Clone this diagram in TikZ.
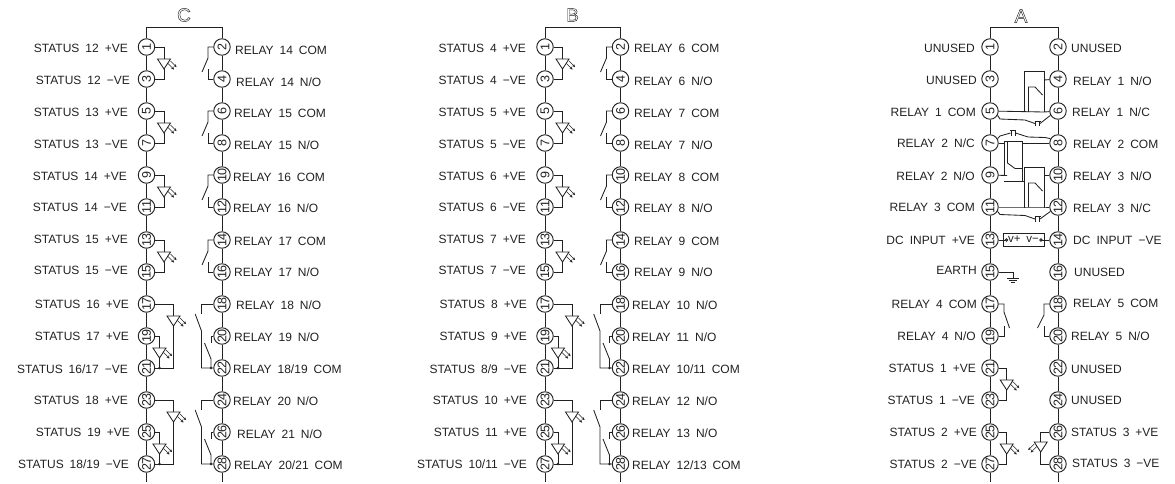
\documentclass[tikz,border=0pt]{standalone}
\usepackage{graphicx}
\usepackage{fontspec}
\setmainfont[WordSpace=1.8]{Liberation Sans}
\definecolor{ink}{gray}{0.13}
\tikzset{
  w/.style={draw=ink,line width=0.85pt,line join=miter},
  term/.style={circle,draw=ink,line width=0.95pt,fill=white,minimum size=16.5pt,inner sep=0pt,text=ink,font=\fontsize{12.5}{12.5}\selectfont},
  lt/.style={inner sep=0pt,anchor=east,text=ink,text height=9pt,text depth=0pt,font=\fontsize{12}{12}\selectfont},
  rt/.style={lt,anchor=west},
  head/.style={inner sep=0pt,text=ink,font=\fontsize{19}{19}\selectfont},
  ray/.style={draw=ink,line width=0.55pt,-{Stealth[length=2.8pt,width=2.8pt]}},
  dotn/.style={circle,fill=ink,inner sep=0pt,minimum size=2.8pt},
  psu/.style={inner sep=0pt,text=ink,font=\fontsize{11.5}{11.5}\selectfont}
}
\usetikzlibrary{arrows.meta}
\newcommand\outl[1]{\special{pdf:code q 1 Tr 0.45 w}#1\special{pdf:code Q}}
% terminals and spines: prefix, left x, right x
\newcommand\pins[3]{%
  \foreach \yy [count=\k from 0] in {47,79,111,143,175,207,240,272,304,336,368,400,432,464}{%
    \pgfmathtruncatemacro\oo{2*\k+1}\pgfmathtruncatemacro\ee{2*\k+2}%
    \node[term] (#1\oo) at (#2,\yy) {\rotatebox{90}{\makebox[10pt][c]{\oo}}};
    \node[term] (#1\ee) at (#3,\yy) {\rotatebox{90}{\makebox[10pt][c]{\ee}}};
  }
  \coordinate (#1tl) at (#2,27); \coordinate (#1tr) at (#3,27);
  \coordinate (#1bl) at (#2,482); \coordinate (#1br) at (#3,482);
  \draw[w] (#11) -- (#1tl) -- (#1tr) -- (#12);
  \draw[w] (#127) -- (#1bl); \draw[w] (#128) -- (#1br);
  \foreach \a/\b in {1/3,3/5,5/7,7/9,9/11,11/13,13/15,15/17,17/19,19/21,21/23,23/25,25/27,
                     2/4,4/6,6/8,8/10,10/12,12/14,14/16,16/18,18/20,20/22,22/24,24/26,26/28}{
    \draw[w] (#1\a) -- (#1\b);
  }
}
\newcommand\tri[2]{%
  \draw[w] ({#1-6.5},#2) -- ({#1+6.5},#2) -- (#1,{#2+10}) -- cycle;
  \draw[ray] ({#1+4},{#2+4.5}) -- ({#1+10},{#2+10.5});
  \draw[ray] ({#1+6.5},{#2+2}) -- ({#1+12.5},{#2+8});
}
\newcommand\opto[5]{%
  \draw[w] (#1) -- (#3,#4) -- (#3,{#4+12}) ;
  \tri{#3}{#4+12}
  \draw[w] (#3,{#4+22}) -- (#3,#5) -- (#2);
}
\newcommand\optob[5]{%
  \draw[w] (#1) -- ({173.5+#4},#5) -- ({173.5+#4},{#5+12});
  \tri{173.5+#4}{#5+12}
  \draw[w] ({173.5+#4},{#5+22}) -- ({173.5+#4},{#5+64}) -- (#3);
  \draw[w] (#2) -- ({159.5+#4},{#5+32}) -- ({159.5+#4},{#5+44});
  \tri{159.5+#4}{#5+44}
  \draw[w] ({159.5+#4},{#5+54}) -- ({159.5+#4},{#5+64});
  \node[dotn] (#3dot) at ({159.5+#4},{#5+64}) {};
}
\newcommand\contact[9]{%
  \draw[w] (#1) -- (#3,#4) -- (#3,#6) -- (#7,#8);
  \draw[w] (#2) -- (#3,#5) -- (#3,#9);
}
\newcommand\scontact[4]{\contact{#1}{#2}{#3}{#4}{#4+32}{#4+11}{#3-6}{#4+25}{#4+22}}
\newcommand\relayb[5]{%
  \draw[w] (#1) -- ({201.5+#4},#5) -- ({201.5+#4},{#5+10});
  \draw[w] ({195.2+#4},{#5+10}) -- ({201.5+#4},{#5+27}) -- ({201.5+#4},{#5+64}) -- (#3);
  \draw[w] (#2) -- ({211+#4},{#5+32}) -- ({211+#4},{#5+39});
  \draw[w] ({204.5+#4},{#5+39}) -- ({211+#4},{#5+55}) -- ({211+#4},{#5+64});
  \node[dotn] (#3dot) at ({211+#4},{#5+64}) {};
}
\newcommand\jump[2]{%
  \draw[w] ({#1},{#2-2.5}) -- ({#1},{#2+2.5});
  \draw[w] ({#1+4},{#2-2.5}) -- ({#1+4},{#2+2.5});
  \draw[w] ({#1-1},{#2-2.5}) -- ({#1+5},{#2-2.5});
}
\newcommand\LL[4]{\node[lt] (#1) at (#2,#3) {#4};}
\newcommand\RR[4]{\node[rt] (#1) at (#2,#3) {#4};}
\begin{document}
\begin{tikzpicture}[x=1pt,y=-1pt]
\useasboundingbox (0,0) rectangle (1175,483);
% ---------- C
\pins{c}{146.5}{222}
\node[head] (hc) at (184,15) {\outl{C}};
\opto{c1}{c3}{164}{47}{79}
\opto{c5}{c7}{164}{111}{143}
\opto{c9}{c11}{164}{175}{207}
\opto{c13}{c15}{164}{240}{272}
\optob{c17}{c19}{c21}{0}{304}
\optob{c23}{c25}{c27}{0}{400}
\scontact{c2}{c4}{208}{47}
\scontact{c6}{c8}{208}{111}
\scontact{c10}{c12}{208}{175}
\scontact{c14}{c16}{208}{240}
\relayb{c18}{c20}{c22}{0}{304}
\relayb{c24}{c26}{c28}{0}{400}
\LL{cl1}{128}{48}{STATUS 12 +VE}
\LL{cl3}{130}{80}{STATUS 12 −VE}
\LL{cl5}{128}{112}{STATUS 13 +VE}
\LL{cl7}{128}{144}{STATUS 13 −VE}
\LL{cl9}{127}{176}{STATUS 14 +VE}
\LL{cl11}{127}{207}{STATUS 14 −VE}
\LL{cl13}{128}{239}{STATUS 15 +VE}
\LL{cl15}{128}{270}{STATUS 15 −VE}
\LL{cl17}{129}{304}{STATUS 16 +VE}
\LL{cl19}{129}{336}{STATUS 17 +VE}
\LL{cl21}{128}{369}{STATUS 16/17 −VE}
\LL{cl23}{128}{400}{STATUS 18 +VE}
\LL{cl25}{130}{432}{STATUS 19 +VE}
\LL{cl27}{129}{464}{STATUS 18/19 −VE}
\RR{cr2}{235}{50}{RELAY 14 COM}
\RR{cr4}{236}{82}{RELAY 14 N/O}
\RR{cr6}{234}{113}{RELAY 15 COM}
\RR{cr8}{234}{145}{RELAY 15 N/O}
\RR{cr10}{233}{177}{RELAY 16 COM}
\RR{cr12}{233}{208}{RELAY 16 N/O}
\RR{cr14}{234}{241}{RELAY 17 COM}
\RR{cr16}{234}{272}{RELAY 17 N/O}
\RR{cr18}{236}{305}{RELAY 18 N/O}
\RR{cr20}{234}{337}{RELAY 19 N/O}
\RR{cr22}{233}{369}{RELAY 18/19 COM}
\RR{cr24}{233}{401}{RELAY 20 N/O}
\RR{cr26}{237}{434}{RELAY 21 N/O}
\RR{cr28}{234}{465}{RELAY 20/21 COM}
% ---------- B
\pins{b}{545}{620.5}
\node[head] (hb) at (572.5,15) {\outl{B}};
\opto{b1}{b3}{562.5}{47}{79}
\opto{b5}{b7}{562.5}{111}{143}
\opto{b9}{b11}{562.5}{175}{207}
\opto{b13}{b15}{562.5}{240}{272}
\optob{b17}{b19}{b21}{398.5}{304}
\optob{b23}{b25}{b27}{398.5}{400}
\scontact{b2}{b4}{606.5}{47}
\scontact{b6}{b8}{606.5}{111}
\scontact{b10}{b12}{606.5}{175}
\scontact{b14}{b16}{606.5}{240}
\relayb{b18}{b20}{b22}{398.5}{304}
\relayb{b24}{b26}{b28}{398.5}{400}
\LL{bl1}{526}{48}{STATUS 4 +VE}
\LL{bl3}{526}{80}{STATUS 4 −VE}
\LL{bl5}{526}{112}{STATUS 5 +VE}
\LL{bl7}{526}{144}{STATUS 5 −VE}
\LL{bl9}{526}{176}{STATUS 6 +VE}
\LL{bl11}{526}{207}{STATUS 6 −VE}
\LL{bl13}{526}{239}{STATUS 7 +VE}
\LL{bl15}{526}{270}{STATUS 7 −VE}
\LL{bl17}{527}{304}{STATUS 8 +VE}
\LL{bl19}{527}{336}{STATUS 9 +VE}
\LL{bl21}{527}{369}{STATUS 8/9 −VE}
\LL{bl23}{527}{400}{STATUS 10 +VE}
\LL{bl25}{527}{432}{STATUS 11 +VE}
\LL{bl27}{527}{464}{STATUS 10/11 −VE}
\RR{br2}{634}{48}{RELAY 6 COM}
\RR{br4}{634}{81}{RELAY 6 N/O}
\RR{br6}{634}{113}{RELAY 7 COM}
\RR{br8}{634}{145}{RELAY 7 N/O}
\RR{br10}{634}{177}{RELAY 8 COM}
\RR{br12}{634}{208}{RELAY 8 N/O}
\RR{br14}{634}{241}{RELAY 9 COM}
\RR{br16}{634}{272}{RELAY 9 N/O}
\RR{br18}{632}{305}{RELAY 10 N/O}
\RR{br20}{632}{337}{RELAY 11 N/O}
\RR{br22}{632}{369}{RELAY 10/11 COM}
\RR{br24}{632}{401}{RELAY 12 N/O}
\RR{br26}{632}{433}{RELAY 13 N/O}
\RR{br28}{632}{465}{RELAY 12/13 COM}
% ---------- A
\pins{a}{990}{1058}
\node[head] (ha) at (1021,16) {\outl{A}};
\draw[w] (1024,112) -- (1024,71) -- (1044,71) -- (1044,112);
\draw[w] (a4) -- (1044,80);
\draw[w] (a5) -- (1044,112) -- (a6);
\draw[w] (1028.5,112) -- (1028.5,87) -- (1035,87) -- (1042.5,95);
\draw[w] (a5.-30) -- (1000,119) -- (1025,120) -- (1035,123.5);
\jump{1035.5}{123.5}
\draw[w] (1040,123.5) -- (a6.-150);
\draw[w] (a7) -- (1004,143) (1022,143) -- (a8);
\draw[w] (1022,141) -- (1022,181.5) -- (1024,181.5) (1022,181.5) -- (1004,181.5);
\draw[w] (1004,141) -- (1022,141);
\draw[w] (1004,141) -- (1004,175);
\draw[w] (1007.5,141) -- (1007.5,163) -- (1015,168.5) -- (1022,168.5);
\draw[w] (a9) -- (1007,175.5);
\draw[w] (a7.30) -- (1000,136) -- (1010.5,133);
\jump{1011}{133}
\draw[w] (1015.5,133) -- (1028,137) -- (1045,137.5) -- (a8.150);
\draw[w] (1024,208) -- (1024,167) -- (1044,167) -- (1044,208);
\draw[w] (a10) -- (1044,175);
\draw[w] (a11) -- (1044,207) -- (a12);
\draw[w] (1028.5,207) -- (1028.5,183) -- (1035,183) -- (1042.5,191);
\draw[w] (a11.-30) -- (1000,214.5) -- (1025,215.5) -- (1035,219);
\jump{1035.5}{219}
\draw[w] (1040,219) -- (a12.-150);
\draw[w] (1003,233) rectangle (1044,246);
\node[psu] (pv) at (1023.5,239.5) {v+ v−};
\draw[w,fill=white] (1006.5,240) circle (1.3pt);
\draw[w,fill=white] (1041,240) circle (1.3pt);
\draw[w] (a13) -- (1005.2,240);
\draw[w] (1042.3,240) -- (a14);
\coordinate (eg) at (1013,278);
\draw[w] (a15) -- (1013,272) -- (eg);
\draw[w] (1007,278.3) -- (1019,278.3) (1009,280.5) -- (1017,280.5) (1011.3,282.5) -- (1014.7,282.5);
\contact{a17}{a19}{1004}{304}{336}{312}{1009.5}{328}{326}
\contact{a18}{a20}{1044}{304}{336}{315}{1037.5}{328}{326}
\opto{a21}{a23}{1006.7}{368}{400}
\opto{a25}{a27}{1006.7}{432}{464}
\draw[w] (a26) -- (1040.7,432) -- (1040.7,442);
\draw[w] (1034.2,442) -- (1047.2,442) -- (1040.7,452) -- cycle;
\draw[ray] (1036.7,446.5) -- (1030.7,452.5);
\draw[ray] (1034.2,444) -- (1028.2,450);
\draw[w] (1040.7,452) -- (1040.7,464) -- (a28);
\LL{al1}{975}{48}{UNUSED}
\LL{al3}{977}{80}{UNUSED}
\LL{al5}{976}{112}{RELAY 1 COM}
\LL{al7}{975}{143}{RELAY 2 N/C}
\LL{al9}{975}{176}{RELAY 2 N/O}
\LL{al11}{975}{207}{RELAY 3 COM}
\LL{al13}{975}{240}{DC INPUT +VE}
\LL{al15}{977}{270}{EARTH}
\LL{al17}{977}{304}{RELAY 4 COM}
\LL{al19}{976}{336}{RELAY 4 N/O}
\LL{al21}{976}{368}{STATUS 1 +VE}
\LL{al23}{975}{400}{STATUS 1 −VE}
\LL{al25}{977}{432}{STATUS 2 +VE}
\LL{al27}{977}{464}{STATUS 2 −VE}
\RR{ar2}{1071}{48}{UNUSED}
\RR{ar4}{1073}{81}{RELAY 1 N/O}
\RR{ar6}{1072}{112}{RELAY 1 N/C}
\RR{ar8}{1073}{144}{RELAY 2 COM}
\RR{ar10}{1073}{176}{RELAY 3 N/O}
\RR{ar12}{1073}{208}{RELAY 3 N/C}
\RR{ar14}{1073}{240}{DC INPUT −VE}
\RR{ar16}{1074}{272}{UNUSED}
\RR{ar18}{1073}{303}{RELAY 5 COM}
\RR{ar20}{1071}{336}{RELAY 5 N/O}
\RR{ar22}{1071}{369}{UNUSED}
\RR{ar24}{1071}{400}{UNUSED}
\RR{ar26}{1071}{432}{STATUS 3 +VE}
\RR{ar28}{1072}{463}{STATUS 3 −VE}
\end{tikzpicture}
\end{document}
